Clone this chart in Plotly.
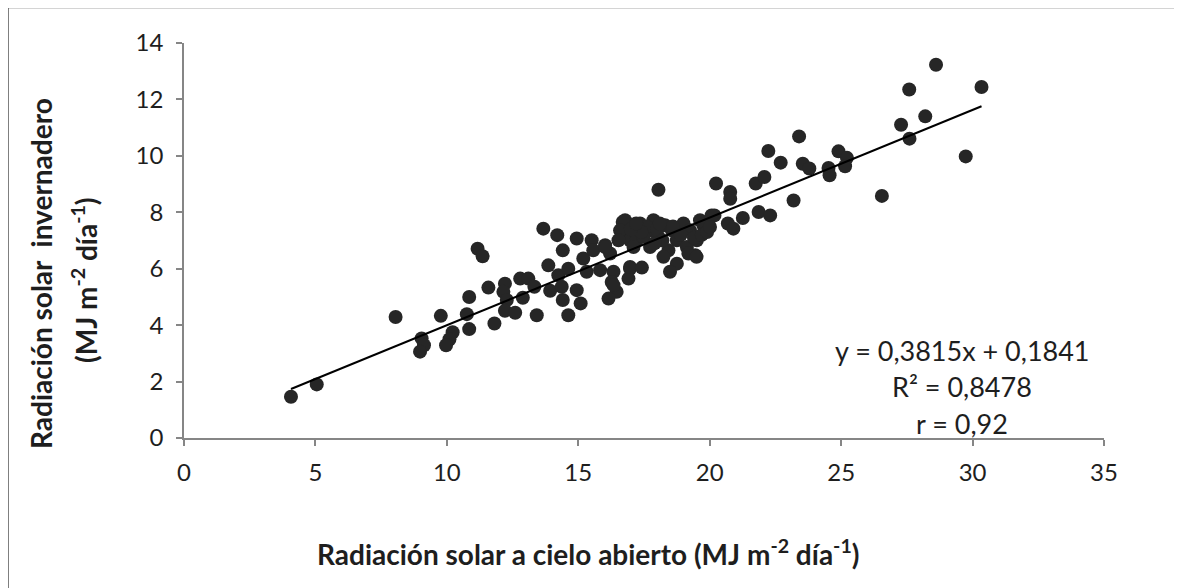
import plotly.graph_objects as go

# Data (MJ m-2 día-1)
x_open = [4.07, 5.05, 8.05, 9.77, 9.04, 9.13, 8.98, 10.22, 10.10, 9.97,
          10.85, 10.76, 10.85, 11.17, 11.36, 11.58, 11.81, 12.21, 12.15, 12.28,
          12.21, 12.60, 12.79, 13.10, 13.33, 12.89, 13.42, 13.67, 14.20, 14.41,
          13.86, 13.93, 14.24, 14.37, 14.41, 14.62, 14.62, 14.94, 14.94, 15.09,
          15.19, 15.32, 15.51, 15.57, 15.83, 16.02, 16.21, 16.34, 16.27, 16.46,
          16.15, 16.97, 16.91, 16.69, 16.91, 16.72,
          16.78, 16.59, 16.97, 16.02, 17.35, 17.86, 17.73, 18.05, 17.73, 18.30,
          18.56, 18.75, 18.43, 19.00, 19.25, 19.51, 19.13, 19.45, 19.19, 19.63,
          19.89, 18.24, 18.75, 18.49, 16.97, 17.42, 16.34, 17.22, 17.10, 17.48,
          16.53, 19.50, 20.07, 19.76,
          17.60, 18.00, 18.20, 18.90, 19.40, 17.90, 18.60, 17.40, 18.10, 19.70,
          19.90, 17.00, 17.20,
          18.05, 20.24, 20.78, 20.78, 22.23, 22.70, 21.75, 22.08, 23.19, 23.40,
          21.86, 22.30, 21.26, 20.69, 20.90, 20.18, 20.01,
          23.54, 23.79, 24.90, 25.22, 25.15, 24.52, 24.56, 26.55, 27.28, 27.60,
          28.20, 27.59, 28.61, 30.34, 29.74]
y_green = [1.46, 1.90, 4.29, 4.33, 3.53, 3.29, 3.06, 3.75, 3.50, 3.29,
           5.00, 4.39, 3.86, 6.71, 6.44, 5.33, 4.06, 5.47, 5.18, 4.89,
           4.51, 4.44, 5.65, 5.65, 5.36, 4.97, 4.35, 7.42, 7.19, 6.65,
           6.12, 5.22, 5.77, 5.36, 4.89, 4.35, 6.00, 7.07, 5.24, 4.77,
           6.36, 5.89, 7.01, 6.65, 5.95, 6.83, 6.54, 5.89, 5.53, 5.18,
           4.94, 6.00, 5.65, 7.66, 7.36, 7.13,
           7.72, 7.36, 7.01, 6.77, 7.60, 7.72, 7.36, 7.13, 6.77, 7.54,
           7.36, 7.01, 6.65, 7.60, 7.36, 7.01, 6.77, 6.48, 6.54, 7.72,
           7.54, 6.42, 6.18, 5.89, 6.06, 6.04, 5.42, 7.01, 6.77, 7.13,
           7.01, 6.42, 7.89, 7.54,
           7.50, 7.40, 7.00, 7.20, 7.10, 6.90, 7.50, 7.30, 7.60, 7.20,
           7.30, 7.40, 7.60,
           8.80, 9.02, 8.72, 8.48, 10.17, 9.76, 9.02, 9.25, 8.42, 10.69,
           8.01, 7.89, 7.80, 7.60, 7.42, 7.89, 7.48,
           9.72, 9.55, 10.16, 9.93, 9.63, 9.57, 9.31, 8.58, 11.10, 10.61,
           11.40, 12.35, 13.23, 12.44, 9.98]

slope = 0.3815
intercept = 0.1841
eq_lines = ["y = 0,3815x + 0,1841", "R² = 0,8478", "r = 0,92"]
x_ticks = [0, 5, 10, 15, 20, 25, 30, 35]
y_ticks = [0, 2, 4, 6, 8, 10, 12, 14]

FONT = "Lato, 'Open Sans', sans-serif"
AXC = "#868686"
TXT = "#1e1e1e"
PW, PH = 920, 395  # plot area size in px

fig = go.Figure()
fig.add_trace(go.Scatter(
    x=x_open, y=y_green, mode="markers",
    marker=dict(size=14, color="#262626", line=dict(width=0)),
    showlegend=False, hoverinfo="x+y"))

lx = [min(x_open), max(x_open)]
ly = [slope * v + intercept for v in lx]
fig.add_trace(go.Scatter(x=lx, y=ly, mode="lines",
                         line=dict(color="black", width=2),
                         showlegend=False, hoverinfo="skip"))

fig.update_layout(
    width=1182, height=588,
    margin=dict(l=176, r=86, t=35, b=158),
    paper_bgcolor="white", plot_bgcolor="white",
    font=dict(family=FONT, size=24, color=TXT),
    xaxis=dict(range=[0, 35], tickvals=x_ticks, showgrid=False, zeroline=False,
               showline=True, linecolor=AXC, linewidth=1.5,
               ticks="outside", ticklen=6, tickcolor=AXC, tickwidth=1.5,
               ticklabelstandoff=6,
               tickfont=dict(size=24, family=FONT, color=TXT)),
    yaxis=dict(range=[0, 14], tickvals=y_ticks, showgrid=False, zeroline=False,
               showline=True, linecolor=AXC, linewidth=1.5,
               ticks="outside", ticklen=6, tickcolor=AXC, tickwidth=1.5,
               ticklabelstandoff=8,
               tickfont=dict(size=24, family=FONT, color=TXT)),
    shapes=[dict(type="rect", xref="paper", yref="paper",
                 x0=-176 / PW, x1=1.3, y0=-0.6, y1=1 + 35.5 / PH,
                 line=dict(color="#555555", width=1.5), layer="below")],
)

annots = [
    dict(text="<b>Radiación solar a cielo abierto (MJ m<sup>-2</sup> día<sup>-1</sup>)</b>",
         x=(588 - 184) / PW, y=(438 - 552) / PH, xref="paper", yref="paper",
         showarrow=False, font=dict(size=28, family=FONT, color=TXT),
         xanchor="center", yanchor="middle"),
    dict(text="<b>Radiación solar  invernadero</b>",
         x=(41 - 184) / PW, y=(438 - 274) / PH, xref="paper", yref="paper",
         showarrow=False, textangle=-90, font=dict(size=28, family=FONT, color=TXT),
         xanchor="center", yanchor="middle"),
    dict(text="<b>(MJ m<sup>-2</sup> día<sup>-1</sup>)</b>",
         x=(84 - 184) / PW, y=(438 - 280) / PH, xref="paper", yref="paper",
         showarrow=False, textangle=-90, font=dict(size=28, family=FONT, color=TXT),
         xanchor="center", yanchor="middle"),
]
for i, t in enumerate(eq_lines):
    annots.append(dict(text=t, x=(962 - 184) / PW, y=(438 - (350 + 36.5 * i)) / PH,
                       xref="paper", yref="paper", showarrow=False,
                       font=dict(size=27, family=FONT, color=TXT),
                       xanchor="center", yanchor="middle"))
fig.update_layout(annotations=annots)

fig.write_html("out.html")
